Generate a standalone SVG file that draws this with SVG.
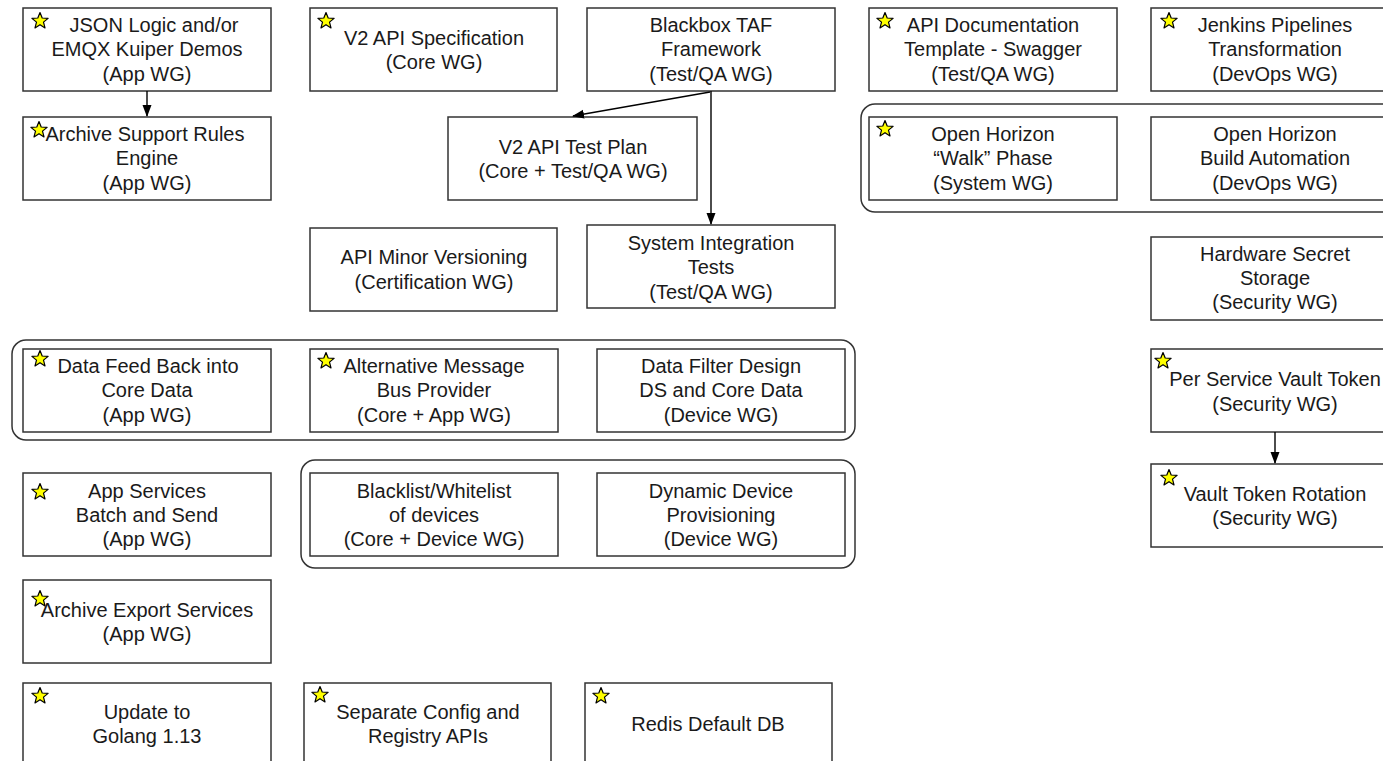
<svg xmlns="http://www.w3.org/2000/svg" xmlns:xlink="http://www.w3.org/1999/xlink" width="1383" height="761" viewBox="0 0 1383 761">
<style>
.box{fill:#fff;stroke:#333;stroke-width:1.5}
.grp{fill:none;stroke:#333;stroke-width:1.5}
.t{font-family:"Liberation Sans",Arial,sans-serif;font-size:20px;fill:#1a1a1a;text-anchor:middle}
.edge{fill:none;stroke:#000;stroke-width:1.4}
.star{fill:#ffff00;stroke:#000;stroke-width:1.2;stroke-linejoin:round}
</style>
<defs>
<path id="star" class="star" d="M0,-8.5 L2.2,-3 L8.1,-2.6 L3.5,1.15 L5,6.9 L0,3.7 L-5,6.9 L-3.5,1.15 L-8.1,-2.6 L-2.2,-3 Z"/>
<marker id="arr" markerWidth="12" markerHeight="12" refX="11" refY="6" orient="auto" markerUnits="userSpaceOnUse">
<path d="M0,1.5 L12,6 L0,10.5 Z" fill="#000"/>
</marker>
</defs>
<rect width="1383" height="761" fill="#fff"/>

<g id="groups">
<rect class="grp" x="861" y="104" width="540" height="108" rx="14"/>
<rect class="grp" x="12" y="340" width="843" height="100" rx="14"/>
<rect class="grp" x="301" y="460" width="554" height="108" rx="14"/>
</g>

<g id="n-json">
<rect class="box" x="23" y="8" width="248" height="83"/>
<use href="#star" x="40" y="21"/>
<text class="t" x="154" y="32">JSON Logic and/or</text>
<text class="t" x="147" y="56">EMQX Kuiper Demos</text>
<text class="t" x="147" y="81">(App WG)</text>
</g>
<g id="n-v2spec">
<rect class="box" x="310" y="8" width="247" height="83"/>
<use href="#star" x="326" y="21"/>
<text class="t" x="434" y="45">V2 API Specification</text>
<text class="t" x="434" y="69">(Core WG)</text>
</g>
<g id="n-blackbox">
<rect class="box" x="587" y="8" width="248" height="83"/>
<text class="t" x="711" y="32">Blackbox TAF</text>
<text class="t" x="711" y="56">Framework</text>
<text class="t" x="711" y="81">(Test/QA WG)</text>
</g>
<g id="n-apidoc">
<rect class="box" x="869" y="8" width="248" height="83"/>
<use href="#star" x="885" y="21"/>
<text class="t" x="993" y="32">API Documentation</text>
<text class="t" x="993" y="56">Template - Swagger</text>
<text class="t" x="993" y="81">(Test/QA WG)</text>
</g>
<g id="n-jenkins">
<rect class="box" x="1151" y="8" width="248" height="83"/>
<use href="#star" x="1169" y="21"/>
<text class="t" x="1275" y="32">Jenkins Pipelines</text>
<text class="t" x="1275" y="56">Transformation</text>
<text class="t" x="1275" y="81">(DevOps WG)</text>
</g>
<g id="n-archsupport">
<rect class="box" x="23" y="117" width="248" height="83"/>
<use href="#star" x="39" y="130"/>
<text class="t" x="145" y="141">Archive Support Rules</text>
<text class="t" x="147" y="165">Engine</text>
<text class="t" x="147" y="190">(App WG)</text>
</g>
<g id="n-v2test">
<rect class="box" x="448" y="117" width="249" height="83"/>
<text class="t" x="573" y="154">V2 API Test Plan</text>
<text class="t" x="573" y="178">(Core + Test/QA WG)</text>
</g>
<g id="n-ohwalk">
<rect class="box" x="869" y="117" width="248" height="83"/>
<use href="#star" x="885" y="129"/>
<text class="t" x="993" y="141">Open Horizon</text>
<text class="t" x="993" y="165">“Walk” Phase</text>
<text class="t" x="993" y="190">(System WG)</text>
</g>
<g id="n-ohbuild">
<rect class="box" x="1151" y="117" width="248" height="83"/>
<text class="t" x="1275" y="141">Open Horizon</text>
<text class="t" x="1275" y="165">Build Automation</text>
<text class="t" x="1275" y="190">(DevOps WG)</text>
</g>
<g id="n-apiminor">
<rect class="box" x="310" y="228" width="247" height="83"/>
<text class="t" x="434" y="264">API Minor Versioning</text>
<text class="t" x="434" y="289">(Certification WG)</text>
</g>
<g id="n-sysint">
<rect class="box" x="587" y="225" width="248" height="83"/>
<text class="t" x="711" y="250">System Integration</text>
<text class="t" x="711" y="274">Tests</text>
<text class="t" x="711" y="299">(Test/QA WG)</text>
</g>
<g id="n-hwsecret">
<rect class="box" x="1151" y="237" width="248" height="83"/>
<text class="t" x="1275" y="261">Hardware Secret</text>
<text class="t" x="1275" y="285">Storage</text>
<text class="t" x="1275" y="309">(Security WG)</text>
</g>
<g id="n-datafeed">
<rect class="box" x="23" y="349" width="248" height="83"/>
<use href="#star" x="40" y="359"/>
<text class="t" x="148" y="373">Data Feed Back into</text>
<text class="t" x="147" y="397">Core Data</text>
<text class="t" x="147" y="422">(App WG)</text>
</g>
<g id="n-altmsg">
<rect class="box" x="310" y="349" width="248" height="83"/>
<use href="#star" x="326" y="361"/>
<text class="t" x="434" y="373">Alternative Message</text>
<text class="t" x="434" y="397">Bus Provider</text>
<text class="t" x="434" y="422">(Core + App WG)</text>
</g>
<g id="n-datafilter">
<rect class="box" x="597" y="349" width="248" height="83"/>
<text class="t" x="721" y="373">Data Filter Design</text>
<text class="t" x="721" y="397">DS and Core Data</text>
<text class="t" x="721" y="422">(Device WG)</text>
</g>
<g id="n-pervault">
<rect class="box" x="1151" y="349" width="248" height="83"/>
<use href="#star" x="1163" y="361"/>
<text class="t" x="1275" y="386">Per Service Vault Token</text>
<text class="t" x="1275" y="411">(Security WG)</text>
</g>
<g id="n-appsvc">
<rect class="box" x="23" y="473" width="248" height="83"/>
<use href="#star" x="40" y="492"/>
<text class="t" x="147" y="498">App Services</text>
<text class="t" x="147" y="522">Batch and Send</text>
<text class="t" x="147" y="546">(App WG)</text>
</g>
<g id="n-blacklist">
<rect class="box" x="310" y="473" width="248" height="83"/>
<text class="t" x="434" y="498">Blacklist/Whitelist</text>
<text class="t" x="434" y="522">of devices</text>
<text class="t" x="434" y="546">(Core + Device WG)</text>
</g>
<g id="n-dynamic">
<rect class="box" x="597" y="473" width="248" height="83"/>
<text class="t" x="721" y="498">Dynamic Device</text>
<text class="t" x="721" y="522">Provisioning</text>
<text class="t" x="721" y="546">(Device WG)</text>
</g>
<g id="n-vaultrot">
<rect class="box" x="1151" y="464" width="248" height="83"/>
<use href="#star" x="1169" y="478"/>
<text class="t" x="1275" y="501">Vault Token Rotation</text>
<text class="t" x="1275" y="525">(Security WG)</text>
</g>
<g id="n-archexport">
<rect class="box" x="23" y="580" width="248" height="83"/>
<use href="#star" x="40" y="599"/>
<text class="t" x="147" y="617">Archive Export Services</text>
<text class="t" x="147" y="641">(App WG)</text>
</g>
<g id="n-golang">
<rect class="box" x="23" y="683" width="248" height="90"/>
<use href="#star" x="40" y="696"/>
<text class="t" x="147" y="719">Update to</text>
<text class="t" x="147" y="743">Golang 1.13</text>
</g>
<g id="n-sepconfig">
<rect class="box" x="304" y="683" width="247" height="90"/>
<use href="#star" x="320" y="695"/>
<text class="t" x="428" y="719">Separate Config and</text>
<text class="t" x="428" y="743">Registry APIs</text>
</g>
<g id="n-redis">
<rect class="box" x="585" y="683" width="247" height="90"/>
<use href="#star" x="601" y="696"/>
<text class="t" x="708" y="731">Redis Default DB</text>
</g>

<g id="connectors">
<path class="edge" d="M147,91 L147,116" marker-end="url(#arr)"/>
<path class="edge" d="M710,92 L573,116" marker-end="url(#arr)"/>
<path class="edge" d="M711,91 L711,224" marker-end="url(#arr)"/>
<path class="edge" d="M1275,432 L1275,463" marker-end="url(#arr)"/>
</g>
</svg>
